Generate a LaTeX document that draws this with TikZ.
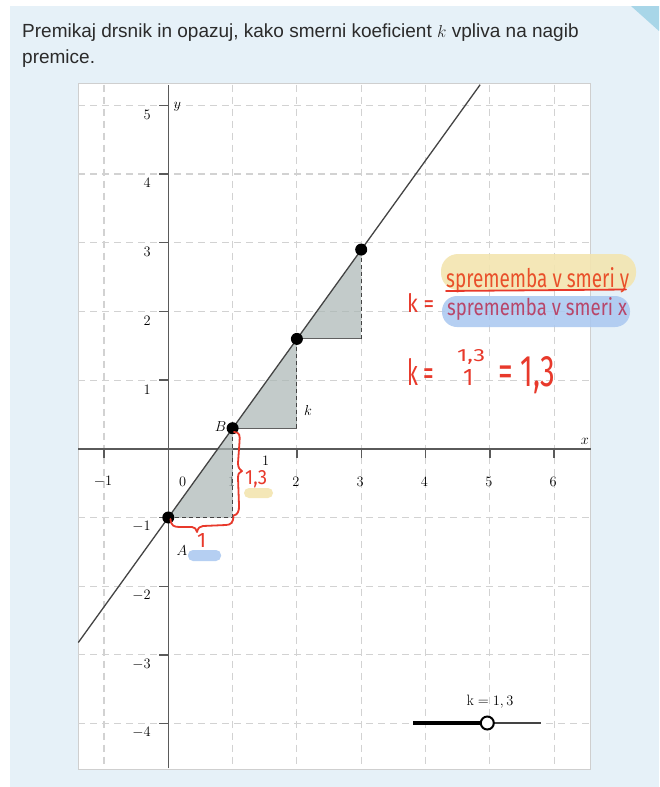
\documentclass[tikz,border=0pt]{standalone}
\usepackage{fontspec}
\newfontfamily\titlefont{Liberation Sans}
\newfontfamily\hwfont{Fira Sans}
\definecolor{bgblue}{HTML}{E6F1F8}
\definecolor{cornerblue}{HTML}{A8D6E8}
\definecolor{gridgray}{HTML}{D2D2D2}
\definecolor{axisgray}{HTML}{5A5A5A}
\definecolor{linegray}{HTML}{444444}
\definecolor{trifill}{RGB}{170,182,180}
\definecolor{hwred}{HTML}{E8392B}
\definecolor{hwnum}{HTML}{E9502A}
\definecolor{hwden}{HTML}{B8466A}
\definecolor{hlyellow}{HTML}{F3E5B0}
\definecolor{hlblue}{HTML}{A9C7F0}
\definecolor{boxgray}{HTML}{CFCFCF}
\definecolor{titlecol}{HTML}{2B2B2B}
\begin{document}
\begin{tikzpicture}[x=1pt,y=-1pt,
  gridline/.style={gridgray,line width=1.1pt,dash pattern=on 7pt off 5pt},
  axisline/.style={axisgray,line width=1.4pt},
  ticklabel/.style={font=\fontsize{15}{18}\selectfont,inner sep=0pt},
  ptlabel/.style={font=\fontsize{15}{18}\selectfont,inner sep=0pt},
  hw/.style={hwred,line width=1.8pt,line cap=round,line join=round},
  hwtext/.style={inner sep=0pt,anchor=base west,font=\hwfont},
  vedge/.style={linegray,line width=1pt,dash pattern=on 4pt off 3pt},
  hedge/.style={linegray!85,line width=1pt},
  dot/.style={circle,fill=black,inner sep=0pt,minimum size=12pt}]
\useasboundingbox (0,0) rectangle (659,787);
\fill[white] (0,0) rectangle (659,787);
\fill[bgblue] (10,6) rectangle (659,787);
\fill[cornerblue] (631,6) -- (659,6) -- (659,31) -- cycle;
% title
\node[anchor=base west,inner sep=0pt,text=titlecol,font=\titlefont\fontsize{19}{26}\selectfont] (title1) at (22,37.3) {Premikaj drsnik in opazuj, kako smerni koeficient $k$ vpliva na nagib};
\node[anchor=base west,inner sep=0pt,text=titlecol,font=\titlefont\fontsize{19}{26}\selectfont] (title2) at (22,63.3) {premice.};
% plot box
\filldraw[fill=white,draw=boxgray,line width=1pt] (78.3,83.8) rectangle (590.7,769.3);
\begin{scope}[shift={(168.3,448.8)},x=64.3pt,y=68.7pt]
  \foreach \i in {-1,1,2,3,4,5,6} \draw[gridline] (\i,5.30) -- (\i,-4.65);
  \foreach \j in {-4,-3,-2,-1,1,2,3,4,5} \draw[gridline] (-1.40,\j) -- (6.57,\j);
  \draw[axisline] (-1.40,0) -- (6.57,0);
  \draw[axisline] (0,-4.65) -- (0,5.30);
  \foreach \i in {-1,1,2,3,4,5,6} {
    \draw[axisline] (\i,0) -- ++(0pt,-9pt);
    \node[ticklabel] (xl\i) at (\i,0) [xshift=-1pt,yshift=-33pt] {$\i$};
  }
  \node[ticklabel] (xl0) at (0,0) [xshift=14.4pt,yshift=-33pt] {$0$};
  \foreach \j in {-4,-3,-2,-1,1,2,3,4,5} {
    \draw[axisline] (0,\j) -- ++(-9pt,0pt);
    \node[ticklabel,anchor=east] (yl\j) at (0,\j) [xshift=-17.5pt,yshift=-9.3pt] {$\j$};
  }
  \node[ptlabel] (xlab) at (6.48,0) [yshift=7.5pt] {$x$};
  \node[ptlabel] (ylab) at (0,5.30) [xshift=9pt,yshift=-22pt] {$y$};
  % points
  \coordinate (P0) at (0,-1);
  \coordinate (P1) at (1,0.3);
  \coordinate (P2) at (2,1.6);
  \coordinate (P3) at (3,2.9);
  \coordinate (Q1) at (1,-1);
  \coordinate (Q2) at (2,0.3);
  \coordinate (Q3) at (3,1.6);
  \coordinate (L0) at (-1.40,-2.82);
  \coordinate (L1) at (4.85,5.30);
  \fill[trifill,fill opacity=0.7] (P0) -- (Q1) -- (P1) -- cycle;
  \fill[trifill,fill opacity=0.7] (P1) -- (Q2) -- (P2) -- cycle;
  \fill[trifill,fill opacity=0.7] (P2) -- (Q3) -- (P3) -- cycle;
  \draw[vedge] (P0) -- (Q1);
  \draw[vedge] (Q1) -- (P1);
  \draw[hedge] (P1) -- (Q2);
  \draw[vedge] (Q2) -- (P2);
  \draw[hedge] (P2) -- (Q3);
  \draw[vedge] (Q3) -- (P3);
  \draw[linegray,line width=1.3pt] (L0) -- (L1);
  \node[dot] (A) at (P0) {};
  \node[dot] (B) at (P1) {};
  \node[dot] (C) at (P2) {};
  \node[dot] (D) at (P3) {};
\end{scope}
\node[ptlabel] (Alab) at (182,551) {$A$};
\node[ptlabel] (Blab) at (220.5,426.5) {$B$};
\node[ptlabel] (klab) at (308,410) {$k$};
\node[ptlabel] (onelab) at (265.6,460.5) {$1$};
% slider
\coordinate (S0) at (413,723);
\coordinate (S2) at (540.7,723);
\draw[linegray,line width=1.2pt] (S0) -- (S2);
\draw[black,line width=3.2pt] (S0) -- (487.3,723);
\node[circle,draw=black,fill=white,line width=2pt,inner sep=0pt,minimum size=13pt] (knob) at (487.3,723) {};
\node[ptlabel] (slab) at (490,702) {$\mathrm{k} = 1,3$};
% highlights
\fill[hlyellow,opacity=0.9,rounded corners=17pt] (441,254) rectangle (636,290);
\fill[hlblue,opacity=0.85,rounded corners=15pt] (442,296) rectangle (630,327);
\fill[hlyellow,opacity=0.9,rounded corners=5pt] (244,488) rectangle (273,498);
\fill[hlblue,opacity=0.85,rounded corners=5pt] (188,550) rectangle (221,561);
% handwriting
\node[hwtext,text=hwnum] (num) at (446,287) {\resizebox{183pt}{20pt}{sprememba v smeri y}};
\draw[hw] (446,291) -- (626,289.5);
\node[hwtext,text=hwden] (den) at (447,315) {\resizebox{180pt}{18pt}{sprememba v smeri x}};
\node[hwtext,text=hwred] (k1) at (407,312) {\resizebox{27pt}{19pt}{k =}};
\node[hwtext,text=hwred] (k2) at (407,385) {\resizebox{27pt}{27pt}{k =}};
\node[hwtext,text=hwred] (n13) at (457,361) {\resizebox{28pt}{12pt}{1,3}};
\node[hwtext,text=hwred] (d1) at (463,385) {\resizebox{!}{16pt}{1}};
\node[hwtext,text=hwred] (r13) at (498,386) {\resizebox{57pt}{30pt}{= 1,3}};
\node[hwtext,text=hwred] (v13) at (245,484) {\resizebox{22pt}{14pt}{1,3}};
\node[hwtext,text=hwred] (h1) at (197,547) {\resizebox{!}{14pt}{1}};
% braces
\draw[hw] (170.5,519) .. controls (171,526) and (174,527) .. (180,527) -- (192,527)
  .. controls (195,527) and (196,529) .. (197,532)
  .. controls (198,528) and (200,526) .. (203,526) -- (226,525)
  .. controls (231,525) and (233,522) .. (233.5,517);
\draw[hw] (234,432) .. controls (240,432) and (240,436) .. (239.5,442) -- (238,463)
  .. controls (238,467) and (239,469) .. (242,471)
  .. controls (239,472) and (238,474) .. (238,478) -- (239,505)
  .. controls (239.5,512) and (237,515) .. (233.5,515.5);
\end{tikzpicture}
\end{document}
